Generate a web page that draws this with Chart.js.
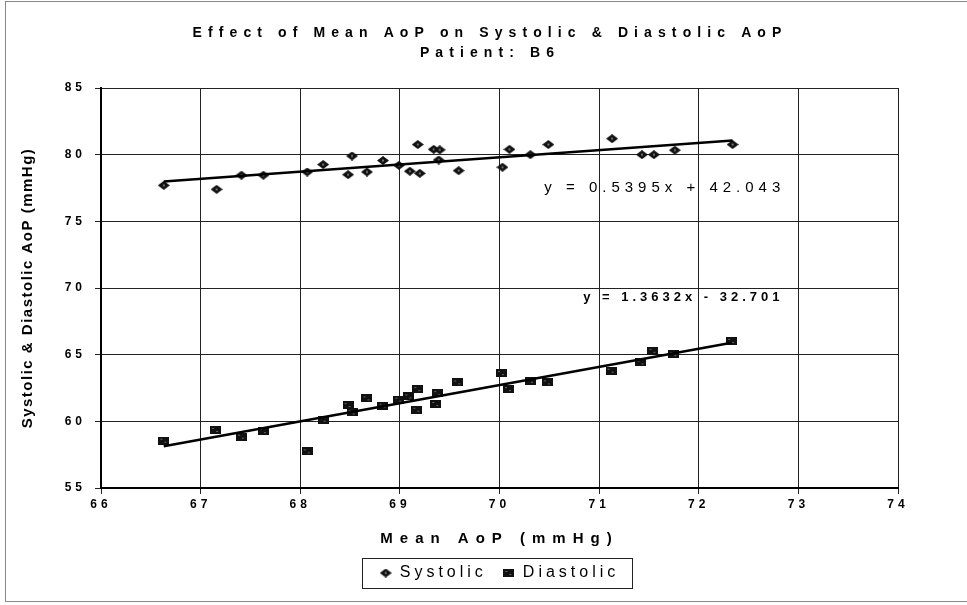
<!DOCTYPE html>
<html>
<head>
<meta charset="utf-8">
<script src="https://cdn.jsdelivr.net/npm/chart.js@4.4.0/dist/chart.umd.min.js"></script>
<style>
  html, body { margin: 0; padding: 0; background: #fff; }
  #wrap { width: 967px; height: 605px; }
</style>
</head>
<body>
<div id="wrap"><canvas id="aopChart" width="967" height="605"></canvas></div>
<script>
// mean AoP for each beat group, with systolic / diastolic pressure (mmHg)
var systolicMean = [66.63, 67.16, 67.41, 67.63, 68.07, 68.23, 68.48, 68.52, 68.67, 68.83, 68.99, 69.10, 69.18, 69.20,
  69.34, 69.39, 69.40, 69.59, 70.03, 70.10, 70.31, 70.49, 71.13, 71.43, 71.55, 71.76, 72.34];
var systolicAoP = [77.7, 77.4, 78.46, 78.46, 78.7, 79.26, 78.5, 79.9, 78.7, 79.56, 79.2, 78.76, 80.76, 78.6,
  80.4, 79.6, 80.36, 78.8, 79.06, 80.4, 80.0, 80.76, 81.2, 80.0, 80.0, 80.34, 80.76];

var diastolicMean = [66.63, 67.15, 67.41, 67.63, 68.07, 68.23, 68.48, 68.52, 68.67, 68.83, 68.99, 69.09, 69.17,
  69.18, 69.36, 69.38, 69.58, 70.02, 70.09, 70.31, 70.48, 71.12, 71.42, 71.54, 71.75, 72.33];
var diastolicAoP = [58.55, 59.35, 58.85, 59.27, 57.75, 60.12, 61.22, 60.67, 61.72, 61.17, 61.62, 61.87, 60.87,
  62.42, 61.3, 62.12, 62.92, 63.62, 62.42, 63.04, 62.92, 63.8, 64.42, 65.29, 65.04, 66.03];

// linear trend lines: [systolic, diastolic]
var fitSlope = [0.5395, 1.3632];
var fitIntercept = [42.043, -32.701];
var fitText = ['y = 0.5395x + 42.043', 'y = 1.3632x - 32.701'];

var xTicks = [66, 67, 68, 69, 70, 71, 72, 73, 74];
var yTicks = [55, 60, 65, 70, 75, 80, 85];

var FONT = '"Liberation Sans", Arial, sans-serif';

function toPoints(xs, ys) {
  return xs.map(function(x, i) { return { x: x, y: ys[i] }; });
}

function fitLine(k, xs) {
  var lo = Math.min.apply(null, xs);
  var hi = Math.max.apply(null, xs);
  return [
    { x: lo, y: fitSlope[k] * lo + fitIntercept[k] },
    { x: hi, y: fitSlope[k] * hi + fitIntercept[k] }
  ];
}

// small marker bitmaps
function makeDiamond() {
  var c = document.createElement('canvas');
  c.width = 12; c.height = 9;
  var g = c.getContext('2d');
  g.fillStyle = '#111';
  g.beginPath();
  g.moveTo(0, 4.5); g.lineTo(6, 0); g.lineTo(12, 4.5); g.lineTo(6, 9);
  g.closePath(); g.fill();
  g.fillStyle = '#777';
  g.fillRect(5, 3.5, 2, 2);
  return c;
}

function makeBlock() {
  var c = document.createElement('canvas');
  c.width = 11; c.height = 8;
  var g = c.getContext('2d');
  g.fillStyle = '#111';
  g.fillRect(0, 0, 11, 8);
  g.fillStyle = '#666';
  g.fillRect(2, 2, 2, 1);
  g.fillRect(6, 5, 2, 1);
  return c;
}

var diamond = makeDiamond();
var block = makeBlock();

// spaced-out lettering used all over this chart
var spacing = {
  id: 'spacing',
  beforeLayout: function(chart) { chart.ctx.letterSpacing = '4px'; },
  beforeDraw: function(chart) { chart.ctx.letterSpacing = '4px'; }
};

function spacedText(ctx, text, x, y, font, gap, align) {
  ctx.save();
  ctx.font = font;
  ctx.letterSpacing = gap + 'px';
  ctx.fillStyle = '#000';
  ctx.textAlign = align || 'center';
  ctx.textBaseline = 'middle';
  ctx.fillText(text, x, y);
  ctx.restore();
}

var decorations = {
  id: 'decorations',
  afterDraw: function(chart) {
    var ctx = chart.ctx;
    var xs = chart.scales.x, ys = chart.scales.y;
    var area = chart.chartArea;

    // title
    spacedText(ctx, 'Effect of Mean AoP on Systolic & Diastolic AoP', 490, 33, 'bold 14px ' + FONT, 6.1);
    spacedText(ctx, 'Patient: B6', 490, 53, 'bold 14px ' + FONT, 6.1);

    // axis titles
    spacedText(ctx, 'Mean AoP (mmHg)', (area.left + area.right) / 2, 539, 'bold 15px ' + FONT, 7);
    ctx.save();
    ctx.translate(28, (area.top + area.bottom) / 2);
    ctx.rotate(-Math.PI / 2);
    spacedText(ctx, 'Systolic & Diastolic AoP (mmHg)', 0, 0, 'bold 15px ' + FONT, 1.5);
    ctx.restore();

    // trend equations
    spacedText(ctx, fitText[0], xs.getPixelForValue(70.45), ys.getPixelForValue(77.5), '15px ' + FONT, 5, 'left');
    spacedText(ctx, fitText[1], xs.getPixelForValue(70.84), ys.getPixelForValue(69.3), 'bold 13px ' + FONT, 4, 'left');

    // frame round the legend
    var boxes = chart.legend.legendHitBoxes;
    if (boxes && boxes.length) {
      var l = Infinity, r = -Infinity, t = Infinity, b = -Infinity;
      boxes.forEach(function(h) {
        l = Math.min(l, h.left); r = Math.max(r, h.left + h.width);
        t = Math.min(t, h.top); b = Math.max(b, h.top + h.height);
      });
      ctx.save();
      ctx.strokeStyle = '#222';
      ctx.lineWidth = 1;
      ctx.strokeRect(Math.round(l - 18) + 0.5, Math.round(t - 7) + 0.5, Math.round(r - l + 30), Math.round(b - t + 14));
      ctx.restore();
    }

    // outer border
    ctx.save();
    ctx.strokeStyle = '#888';
    ctx.lineWidth = 1;
    ctx.strokeRect(5.5, 1.5, 975, 600);
    ctx.restore();
  }
};

var ctx = document.getElementById('aopChart').getContext('2d');
var chart = new Chart(ctx, {
  type: 'scatter',
  data: {
    datasets: [
      {
        type: 'line',
        label: 'fitS',
        data: fitLine(0, systolicMean),
        borderColor: '#000',
        borderWidth: 2.5,
        pointRadius: 0,
        fill: false
      },
      {
        type: 'line',
        label: 'fitD',
        data: fitLine(1, diastolicMean),
        borderColor: '#000',
        borderWidth: 2.5,
        pointRadius: 0,
        fill: false
      },
      {
        label: 'Systolic',
        data: toPoints(systolicMean, systolicAoP),
        pointStyle: diamond,
        pointRadius: 5,
        backgroundColor: '#111',
        borderColor: '#000'
      },
      {
        label: 'Diastolic',
        data: toPoints(diastolicMean, diastolicAoP),
        pointStyle: block,
        pointRadius: 5,
        backgroundColor: '#111',
        borderColor: '#000'
      }
    ]
  },
  options: {
    responsive: false,
    animation: false,
    devicePixelRatio: 1,
    layout: { padding: { left: 0, right: 69, top: 88, bottom: 14 } },
    plugins: {
      title: { display: false },
      tooltip: { enabled: false },
      legend: {
        position: 'bottom',
        fullSize: false,
        labels: {
          usePointStyle: true,
          pointStyleWidth: 12,
          padding: 16,
          color: '#000',
          font: { family: FONT, size: 16 },
          filter: function(item) { return item.text === 'Systolic' || item.text === 'Diastolic'; }
        }
      }
    },
    scales: {
      x: {
        type: 'linear',
        min: xTicks[0],
        max: xTicks[xTicks.length - 1],
        afterFit: function(scale) { scale.height = 61; },
        ticks: {
          stepSize: xTicks[1] - xTicks[0],
          padding: 3,
          color: '#000',
          font: { family: FONT, size: 12, weight: 'bold' }
        },
        grid: { color: '#222', lineWidth: 1, tickLength: 6 },
        border: { color: '#000', width: 2 }
      },
      y: {
        type: 'linear',
        min: yTicks[0],
        max: yTicks[yTicks.length - 1],
        afterFit: function(scale) { scale.width = 101; },
        ticks: {
          stepSize: yTicks[1] - yTicks[0],
          padding: 9,
          color: '#000',
          font: { family: FONT, size: 12, weight: 'bold' }
        },
        grid: { color: '#222', lineWidth: 1, tickLength: 6 },
        border: { color: '#000', width: 2 }
      }
    }
  },
  plugins: [spacing, decorations]
});
</script>
</body>
</html>
